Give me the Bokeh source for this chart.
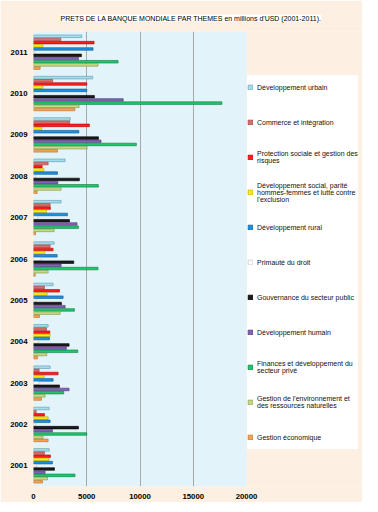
from bokeh.plotting import figure
from bokeh.models import (Range1d, FactorRange, FixedTicker, Legend, LegendItem,
                          BoxAnnotation, ColumnDataSource)
from bokeh.transform import dodge
from bokeh.embed import file_html
from bokeh.resources import INLINE

years = ["2001", "2002", "2003", "2004", "2005", "2006", "2007", "2008", "2009", "2010", "2011"]

# themes listed top-to-bottom as they appear within each year group and in the legend
themes = [
    "Développement urbain",
    "Commerce et intégration",
    "Protection sociale et gestion des\nrisques",
    "Développement social, parité\nhommes-femmes et lutte contre\nl'exclusion",
    "Développement rural",
    "Primauté du droit",
    "Gouvernance du secteur public",
    "Développement humain",
    "Finances et développement du\nsecteur privé",
    "Gestion de l'environnement et\ndes ressources naturelles",
    "Gestion économique",
]

# values in millions USD, 2001 .. 2011
dev_urbain      = [1470, 1470, 1560, 1375, 1840, 1940, 2590, 2970, 3450, 5560, 4530]
commerce        = [1030, 250, 530, 1220, 1030, 1560, 1560, 1375, 3400, 1800, 2560]
protection      = [1590, 1030, 2310, 1530, 2440, 1840, 1590, 810, 5250, 5000, 5690]
dev_social      = [1440, 1375, 1000, 1560, 1280, 1060, 1220, 970, 760, 880, 875]
dev_rural       = [1780, 1560, 1840, 1500, 2780, 2220, 3190, 2250, 4260, 5000, 5590]
primaute_droit  = [280, 220, 500, 470, 250, 720, 400, 190, 30, 100, 125]
gouvernance     = [1970, 4220, 2440, 3340, 2625, 3780, 3380, 4310, 6100, 5720, 4500]
dev_humain      = [1090, 1780, 3340, 3090, 2970, 2590, 4090, 2280, 6340, 8420, 4220]
finances        = [3900, 5000, 2840, 4160, 3840, 6060, 4220, 6090, 9660, 17690, 7940]
environnement   = [1310, 900, 1090, 1250, 2500, 1375, 1940, 2590, 5040, 4280, 6060]
gestion_eco     = [840, 1375, 750, 375, 560, 160, 190, 340, 2250, 3880, 625]

series = [dev_urbain, commerce, protection, dev_social, dev_rural, primaute_droit,
          gouvernance, dev_humain, finances, environnement, gestion_eco]

fill_colors = ["#a6dcec", "#d8706c", "#ff1c1c", "#ffec00", "#1f8fe0", "#ffffff",
               "#1a1a1a", "#8462b4", "#1fc76c", "#c6da86", "#f4a352"]
line_colors = ["#5a98ae", "#9a3a36", "#b00000", "#b3a300", "#0e5590", "#b8b8b8",
               "#000000", "#4a3378", "#0e7a3c", "#7e9242", "#b76c22"]

x_ticks = [0, 5000, 10000, 15000, 20000]
grid_ticks = [5000, 10000, 15000]

p = figure(width=362, height=502, output_backend="svg", toolbar_location=None,
           y_range=FactorRange(factors=years), x_range=Range1d(0, 30890),
           min_border_left=33, min_border_right=0, min_border_top=31, min_border_bottom=16)

p.background_fill_color = "#fdefe1"
p.border_fill_color = "#fdefe1"
p.outline_line_color = None

p.title.text = "PRETS DE LA BANQUE MONDIALE PAR THEMES en millions d'USD (2001-2011)."
p.title.align = "left"
p.title.offset = 27
p.title.vertical_align = "top"
p.title.standoff = 16
p.title.text_font = "Liberation Sans"
p.title.text_font_style = "normal"
p.title.text_font_size = "7px"
p.title.text_color = "#000000"
p.title.background_fill_color = "#ffffff"

plot_area = BoxAnnotation(left=0, right=20000, fill_color="#e2f3fa", fill_alpha=1,
                          line_color=None, level="image")
p.add_layout(plot_area)

p.xgrid.ticker = FixedTicker(ticks=grid_ticks)
p.xgrid.grid_line_color = "#a9a9a9"
p.xgrid.grid_line_width = 1
p.ygrid.grid_line_color = None

src_data = {"year": years}
for i, s in enumerate(series):
    src_data[f"s{i}"] = s
source = ColumnDataSource(src_data)

step = 0.077
renderers = []
for i in range(len(series)):
    off = (5 - i) * step
    r = p.hbar(y=dodge("year", off, range=p.y_range), right=f"s{i}", left=0, height=0.062,
               source=source, fill_color=fill_colors[i], line_color=line_colors[i],
               line_width=0.6)
    renderers.append(r)

p.xaxis.ticker = FixedTicker(ticks=x_ticks)
for ax in (p.xaxis[0], p.yaxis[0]):
    ax.axis_line_color = None
    ax.major_tick_line_color = None
    ax.minor_tick_line_color = None
    ax.major_tick_out = 0
    ax.major_tick_in = 0
    ax.major_label_text_font = "Liberation Sans"
    ax.major_label_text_font_style = "bold"
    ax.major_label_text_font_size = "7.8px"
    ax.major_label_text_color = "#000000"
p.xaxis.major_label_standoff = 7
p.yaxis.major_label_standoff = 6

legend = Legend(items=[LegendItem(label=t, renderers=[r]) for t, r in zip(themes, renderers)],
                location=(214, 37), glyph_width=6, glyph_height=6, label_standoff=4,
                label_height=24, spacing=11, padding=3, margin=0,
                label_text_font="Liberation Sans", label_text_font_size="7px",
                label_text_color="#111111", background_fill_color="#ffffff",
                background_fill_alpha=1, border_line_color=None)
p.add_layout(legend)

open("out.html", "w").write(file_html(p, INLINE))
